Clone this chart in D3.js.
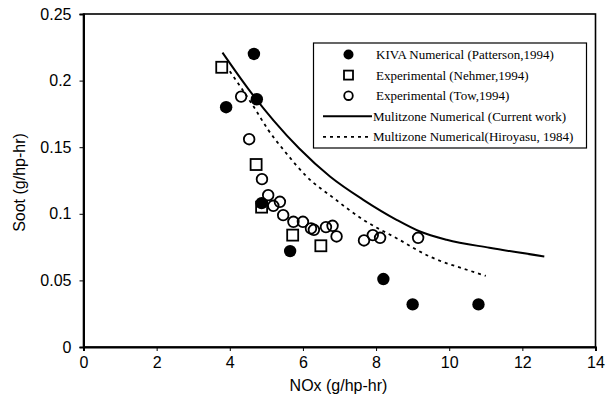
<!DOCTYPE html>
<html><head><meta charset="utf-8">
<script src="https://cdn.jsdelivr.net/npm/d3@7"></script>
<style>body{margin:0;background:#fff}svg{display:block}</style>
</head><body>
<svg id="c" width="607" height="404"></svg>
<script>
// ---- data ----
const xTicks = [0, 2, 4, 6, 8, 10, 12, 14];
const yTicks = [0, 0.05, 0.1, 0.15, 0.2, 0.25];
const yTickLabels = ["0", "0.05", "0.1", "0.15", "0.2", "0.25"];
const kivaX = [3.9, 4.66, 4.74, 4.87, 5.65, 8.2, 9.0, 10.8];
const kivaY = [0.180, 0.220, 0.186, 0.108, 0.072, 0.051, 0.032, 0.032];
const nehmerX = [3.78, 4.72, 4.87, 5.72, 6.49];
const nehmerY = [0.210, 0.137, 0.105, 0.084, 0.076];
const towX = [4.31, 4.53, 4.88, 5.05, 5.19, 5.37, 5.46, 5.74, 6.0, 6.22, 6.3, 6.63, 6.81, 6.92, 7.67, 7.91, 8.11, 9.15];
const towY = [0.188, 0.156, 0.126, 0.114, 0.106, 0.109, 0.099, 0.094, 0.094, 0.089, 0.088, 0.090, 0.091, 0.083, 0.080, 0.084, 0.082, 0.082];
const currentX = [3.8, 4.5, 5.2, 5.9, 6.74, 7.65, 8.56, 9.2, 9.93, 11.1, 12.6];
const currentY = [0.221, 0.194, 0.170, 0.149, 0.128, 0.1105, 0.0955, 0.0867, 0.0805, 0.0745, 0.068];
const hiroX = [4.0, 4.64, 5.05, 5.5, 6.1, 6.83, 7.65, 8.56, 9.5, 10.48, 11.0];
const hiroY = [0.207, 0.181, 0.163, 0.147, 0.128, 0.112, 0.0955, 0.0817, 0.0675, 0.058, 0.0534];
const legendLabels = ["KIVA Numerical (Patterson,1994)", "Experimental (Nehmer,1994)", "Experimental (Tow,1994)", "Mulitzone Numerical (Current work)", "Multizone Numerical(Hiroyasu, 1984)"];
const xTitle = "NOx (g/hp-hr)";
const yTitle = "Soot (g/hp-hr)";

// ---- drawing ----
const svg = d3.select("#c");
const L = 83.5, R = 595.5, T = 14, B = 347;
const x = d3.scaleLinear().domain([0, 14]).range([L, R]);
const y = d3.scaleLinear().domain([0, 0.25]).range([B, T]);

// frame
svg.append("rect").attr("x", L).attr("y", T).attr("width", R - L).attr("height", B - T)
  .attr("fill", "none").attr("stroke", "#000").attr("stroke-width", 1.6);

// axes
const xa = svg.append("g").attr("transform", `translate(0,${B})`)
  .call(d3.axisBottom(x).tickValues(xTicks).tickSize(4).tickPadding(6).tickFormat(d3.format("d")));
const ya = svg.append("g").attr("transform", `translate(${L},0)`)
  .call(d3.axisLeft(y).tickValues(yTicks).tickSize(4).tickPadding(8).tickFormat((d, i) => yTickLabels[i]));
[xa, ya].forEach(a => {
  a.select(".domain").attr("stroke", "#000").attr("stroke-width", 2);
  a.selectAll(".tick line").attr("stroke", "#000").attr("stroke-width", 1);
  a.selectAll("text").attr("font-family", "Liberation Sans, Arial, sans-serif").attr("font-size", 16).attr("fill", "#000");
});

// titles
svg.append("text").attr("x", (L + R) / 2 - 1).attr("y", 391).attr("text-anchor", "middle")
  .attr("font-family", "Liberation Sans, Arial, sans-serif").attr("font-size", 16).text(xTitle);
svg.append("text").attr("transform", `translate(25,${(T + B) / 2 + 2}) rotate(-90)`).attr("text-anchor", "middle")
  .attr("font-family", "Liberation Sans, Arial, sans-serif").attr("font-size", 16).text(yTitle);

// lines
const line = d3.line().x(d => x(d[0])).y(d => y(d[1])).curve(d3.curveMonotoneX);
svg.append("path").datum(currentX.map((v, i) => [v, currentY[i]])).attr("d", line)
  .attr("fill", "none").attr("stroke", "#000").attr("stroke-width", 2);
svg.append("path").datum(hiroX.map((v, i) => [v, hiroY[i]])).attr("d", line)
  .attr("fill", "none").attr("stroke", "#000").attr("stroke-width", 1.8).attr("stroke-dasharray", "3,4");

// markers
svg.append("g").selectAll("circle").data(towX.map((v, i) => [v, towY[i]])).join("circle")
  .attr("cx", d => x(d[0])).attr("cy", d => y(d[1])).attr("r", 5.3)
  .attr("fill", "#fff").attr("fill-opacity", 0).attr("stroke", "#000").attr("stroke-width", 1.8);
svg.append("g").selectAll("rect").data(nehmerX.map((v, i) => [v, nehmerY[i]])).join("rect")
  .attr("x", d => x(d[0]) - 5.5).attr("y", d => y(d[1]) - 5.5).attr("width", 11).attr("height", 11)
  .attr("fill", "none").attr("stroke", "#000").attr("stroke-width", 1.8);
svg.append("g").selectAll("circle").data(kivaX.map((v, i) => [v, kivaY[i]])).join("circle")
  .attr("cx", d => x(d[0])).attr("cy", d => y(d[1])).attr("r", 6.2).attr("fill", "#000");

// legend
const lg = svg.append("g");
lg.append("rect").attr("x", 313.5).attr("y", 43).attr("width", 273).attr("height", 105)
  .attr("fill", "#fff").attr("stroke", "#000").attr("stroke-width", 1.2);
const rows = [54.5, 75.1, 95.7, 116.3, 136.9];
const mx = 348.5;
lg.append("circle").attr("cx", mx).attr("cy", rows[0]).attr("r", 5).attr("fill", "#000");
lg.append("rect").attr("x", mx - 4.5).attr("y", rows[1] - 4.5).attr("width", 9).attr("height", 9)
  .attr("fill", "none").attr("stroke", "#000").attr("stroke-width", 1.8);
lg.append("circle").attr("cx", mx).attr("cy", rows[2]).attr("r", 4.3)
  .attr("fill", "none").attr("stroke", "#000").attr("stroke-width", 1.8);
lg.append("line").attr("x1", 323).attr("x2", 372).attr("y1", rows[3]).attr("y2", rows[3])
  .attr("stroke", "#000").attr("stroke-width", 2);
lg.append("line").attr("x1", 323).attr("x2", 372).attr("y1", rows[4]).attr("y2", rows[4])
  .attr("stroke", "#000").attr("stroke-width", 1.8).attr("stroke-dasharray", "3,4");
lg.selectAll("text").data(legendLabels).join("text")
  .attr("x", (d, i) => i < 3 ? 376 : 373).attr("y", (d, i) => rows[i]).attr("dy", "0.35em")
  .attr("font-family", "Liberation Serif, Times New Roman, serif").attr("font-size", 13)
  .text(d => d);
</script>
</body></html>
